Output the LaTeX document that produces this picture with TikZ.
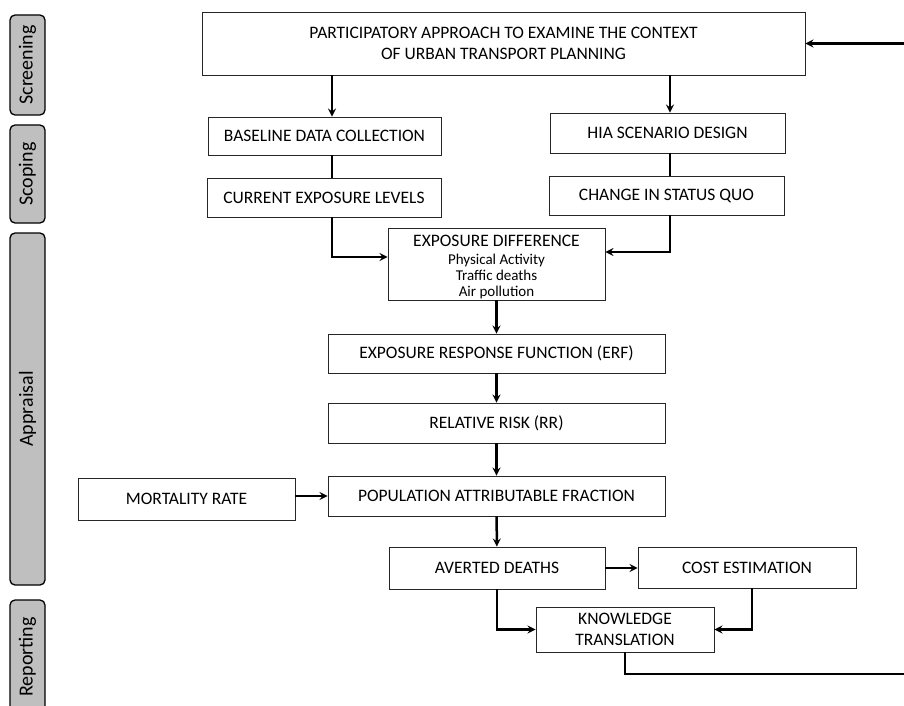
\documentclass[tikz,border=0pt]{standalone}
\usepackage{fontspec}
\setmainfont{Carlito}
\usetikzlibrary{arrows, calc, positioning, shapes}

\begin{document}
\begin{tikzpicture}[x=1pt, y=-1pt]

	\tikzstyle{caja}=[rectangle, draw=black!85, line width=0.9pt, fill=white, align=center, inner sep=2pt, font=\fontsize{17.5}{21}\selectfont]
	\tikzstyle{fase}=[rectangle, rounded corners=5pt, draw=black, line width=1.3pt, fill=black!25, rotate=90, minimum height=35pt, font=\fontsize{20}{20}\selectfont]
	\tikzstyle{flecha}=[->, >=stealth, line width=2.5pt]
	\tikzstyle{linea}=[line width=2.5pt]

	\useasboundingbox (0,0) rectangle (904,706);

	\coordinate (colL) at (332,0);
	\coordinate (colR) at (670,0);
	\coordinate (loop_a) at (908,674);
	\coordinate (loop_b) at (908,43.5);

	\node[fase, minimum width=100pt] (fase_1) at (27.5,65) {Screening}; % FASES
	\node[fase, minimum width=98pt] (fase_2) at (27.5,174) {Scoping}; % FASES
	\node[fase, minimum width=352pt] (fase_3) at (27.5,409) {Appraisal}; % FASES
	\node[fase, minimum width=114pt] (fase_4) at (27.5,657) {Reporting}; % FASES

	\node[caja, minimum width=603pt, minimum height=63pt] (top) at (503.5,43.5) {PARTICIPATORY APPROACH TO EXAMINE THE CONTEXT\\OF URBAN TRANSPORT PLANNING};
	\node[caja, minimum width=233pt, minimum height=38pt] (base) at (324.5,136) {BASELINE DATA COLLECTION};
	\node[caja, minimum width=235pt, minimum height=40pt] (hia) at (667.5,133) {HIA SCENARIO DESIGN};
	\node[caja, minimum width=234pt, minimum height=39pt] (curr) at (324,197.5) {CURRENT EXPOSURE LEVELS};
	\node[caja, minimum width=235pt, minimum height=39pt] (chg) at (666.5,195.5) {CHANGE IN STATUS QUO};
	\node[caja, minimum width=217pt, minimum height=72pt, inner ysep=0pt, font=\fontsize{15}{16}\selectfont] (expd) at (496.5,264) {\rule{0pt}{17pt}{\fontsize{17.5}{19}\selectfont EXPOSURE DIFFERENCE}\\[2pt]Physical Activity\\Traffic deaths\\Air pollution};
	\node[caja, minimum width=337pt, minimum height=39pt] (erf) at (496.5,353.5) {EXPOSURE RESPONSE FUNCTION (ERF)};
	\node[caja, minimum width=337pt, minimum height=40pt] (rr) at (496.5,423) {RELATIVE RISK (RR)};
	\node[caja, minimum width=217pt, minimum height=42pt] (mort) at (186.5,499) {MORTALITY RATE};
	\node[caja, minimum width=337pt, minimum height=40pt] (paf) at (496.5,496) {POPULATION ATTRIBUTABLE FRACTION};
	\node[caja, minimum width=216pt, minimum height=42pt] (avd) at (497,568) {AVERTED DEATHS};
	\node[caja, minimum width=218pt, minimum height=41pt] (cost) at (747,567.5) {COST ESTIMATION};
	\node[caja, minimum width=178pt, minimum height=45pt] (know) at (625,629.5) {KNOWLEDGE\\TRANSLATION};

	\draw[flecha] (top.south -| colL) -- (base.north -| colL);
	\draw[flecha] (top.south -| colR) -- (hia.north -| colR);
	\draw[linea] (base.south -| colL) -- (curr.north -| colL);
	\draw[linea] (hia.south -| colR) -- (chg.north -| colR);
	\draw[flecha] (curr.south -| colL) |- ([yshift=7pt]expd.west);
	\draw[flecha] (chg.south -| colR) |- ([yshift=12pt]expd.east);

	\draw[flecha] (expd) -- (erf);
	\draw[flecha] (erf) -- (rr);
	\draw[flecha] (rr) -- (paf);
	\draw[flecha] (mort.east |- paf) -- (paf.west);
	\draw[flecha] (paf) -- (avd);
	\draw[flecha] (avd.east) -- (avd.east -| cost.west);

	\draw[flecha] (avd.south) |- (know.west);
	\draw[flecha] ([xshift=5pt]cost.south) |- (know.east);
	\draw[flecha] (know.south) |- (loop_a) -- (loop_b) -- (top.east);

\end{tikzpicture}
\end{document}
